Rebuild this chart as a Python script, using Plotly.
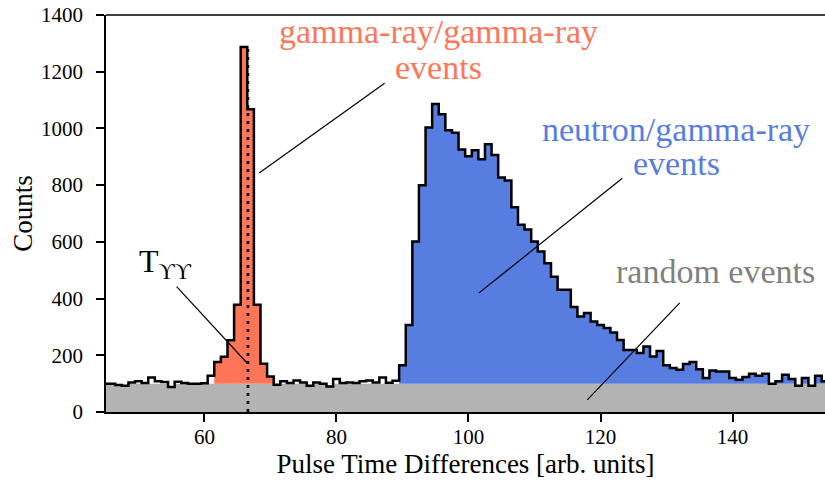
import numpy as np
import plotly.graph_objects as go

# ---- data ----
bin_centers = list(range(45, 155))
counts = [
    100, 100, 95, 93, 104, 108, 102, 122, 108, 106,      # 45-54
    88, 107, 102, 100, 100, 101, 128, 176, 195, 253,     # 55-64
    378, 1287, 1068, 378, 170, 125, 96, 108, 102, 111,   # 65-74
    104, 93, 104, 100, 90, 116, 102, 104, 102, 108,      # 75-84
    111, 104, 122, 103, 110, 165, 307, 601, 800, 1003,   # 85-94
    1086, 1050, 994, 985, 926, 902, 923, 891, 944, 906,  # 95-104
    827, 816, 722, 660, 644, 601, 566, 525, 477, 431,    # 105-114
    431, 370, 337, 349, 319, 307, 296, 280, 254, 219,    # 115-124
    219, 208, 231, 196, 215, 165, 155, 149, 169, 176,    # 125-134
    151, 120, 146, 143, 143, 120, 114, 123, 135, 128,    # 135-144
    135, 100, 108, 131, 116, 93, 120, 93, 128, 108,      # 145-154
]
random_level = 100
gamma_bins = (62, 70)      # first/last bin of gamma-gamma peak
neutron_bins = (90, 154)   # first/last bin of neutron region
t_gg = 66.6
x_ticks = [60, 80, 100, 120, 140]
y_ticks = [0, 200, 400, 600, 800, 1000, 1200, 1400]

RED = "#FF7558"
BLUE = "#577DE0"
GRAY = "#B3B3B3"
SERIF = "Liberation Serif, Times New Roman, serif"

c = np.array(bin_centers, dtype=float)
y = np.array(counts, dtype=float)
edges = np.append(c - 0.5, c[-1] + 0.5)


def step(vals):
    vals = np.asarray(vals, dtype=float)
    return np.append(vals, vals[-1])


fig = go.Figure()

# gray random background
fig.add_trace(go.Scatter(x=edges, y=step(np.minimum(y, random_level)), mode="lines",
                         line=dict(width=0, shape="hv"), fill="tozeroy",
                         fillcolor=GRAY, hoverinfo="skip", showlegend=False))


def region(lo, hi, color):
    m = (c >= lo) & (c <= hi)
    cc = c[m]
    e = np.append(cc - 0.5, cc[-1] + 0.5)
    fig.add_trace(go.Scatter(x=e, y=step(np.full(cc.size, random_level)), mode="lines",
                             line=dict(width=0, shape="hv"), hoverinfo="skip",
                             showlegend=False))
    fig.add_trace(go.Scatter(x=e, y=step(np.maximum(y[m], random_level)), mode="lines",
                             line=dict(width=0, shape="hv"), fill="tonexty",
                             fillcolor=color, hoverinfo="skip", showlegend=False))


region(*gamma_bins, RED)
region(*neutron_bins, BLUE)

# histogram outline
fig.add_trace(go.Scatter(x=edges, y=step(y), mode="lines",
                         line=dict(color="black", width=2.5, shape="hv"),
                         showlegend=False))

# T_gg dotted line
fig.add_trace(go.Scatter(x=[t_gg, t_gg], y=[0, max(counts)], mode="lines",
                         line=dict(color="black", width=2.6, dash="3px,5px"),
                         showlegend=False))

# leader lines
leaders = [
    (87.3, 1159, 68.3, 843),
    (123.3, 824, 101.6, 420),
    (132.0, 385, 118.0, 43),
    (55.8, 442, 66.5, 172),
]
for x0, y0, x1, y1 in leaders:
    fig.add_shape(type="line", x0=x0, y0=y0, x1=x1, y1=y1, xref="x", yref="y",
                  line=dict(color="black", width=1.2))

# top frame line
fig.add_shape(type="line", x0=0, x1=1, y0=1, y1=1, xref="paper", yref="paper",
              line=dict(color="black", width=1.6))

texts = [
    ("gamma-ray/gamma-ray", 95.4, 1343, RED),
    ("events", 95.5, 1215, RED),
    ("neutron/gamma-ray", 131.5, 997, BLUE),
    ("events", 131.5, 878, BLUE),
    ("random events", 137.4, 497, "#808080"),
]
for t, tx, ty, col in texts:
    fig.add_annotation(x=tx, y=ty, text=t, showarrow=False, xanchor="center",
                       yanchor="middle", font=dict(family=SERIF, size=34, color=col))

fig.add_annotation(x=54.1, y=525, text="T<sub>ϒϒ</sub>", showarrow=False,
                   xanchor="center", yanchor="middle",
                   font=dict(family=SERIF, size=32, color="black"))

axis_font = dict(family=SERIF, size=21, color="black")
fig.update_layout(
    width=825, height=489,
    margin=dict(l=106, r=0, t=15, b=77),
    paper_bgcolor="white", plot_bgcolor="white",
    xaxis=dict(range=[45.1, 154.0], tickvals=x_ticks, ticks="outside", ticklen=8,
               tickwidth=1.5, tickcolor="black", showline=True, linecolor="black",
               linewidth=1.6, showgrid=False, zeroline=False,
               tickfont=axis_font, automargin=False, ticklabelstandoff=-3,
               ticklabeloverflow="allow",
               title=dict(text="Pulse Time Differences [arb. units]",
                          font=dict(family=SERIF, size=27, color="black"), standoff=4)),
    yaxis=dict(range=[0, 1400], tickvals=y_ticks, ticks="outside", ticklen=8,
               tickwidth=1.5, tickcolor="black", showline=True, linecolor="black",
               linewidth=1.6, showgrid=False, zeroline=False, tickfont=axis_font,
               automargin=False, ticklabelstandoff=9, ticklabeloverflow="allow",
               title=dict(text="Counts", font=dict(family=SERIF, size=27, color="black"),
                          standoff=1)),
)

# remove the default 8px page margin so the figure fills the window exactly
fig.write_html("out.html", config={"displayModeBar": False},
               post_script="document.body.style.margin='0';")
